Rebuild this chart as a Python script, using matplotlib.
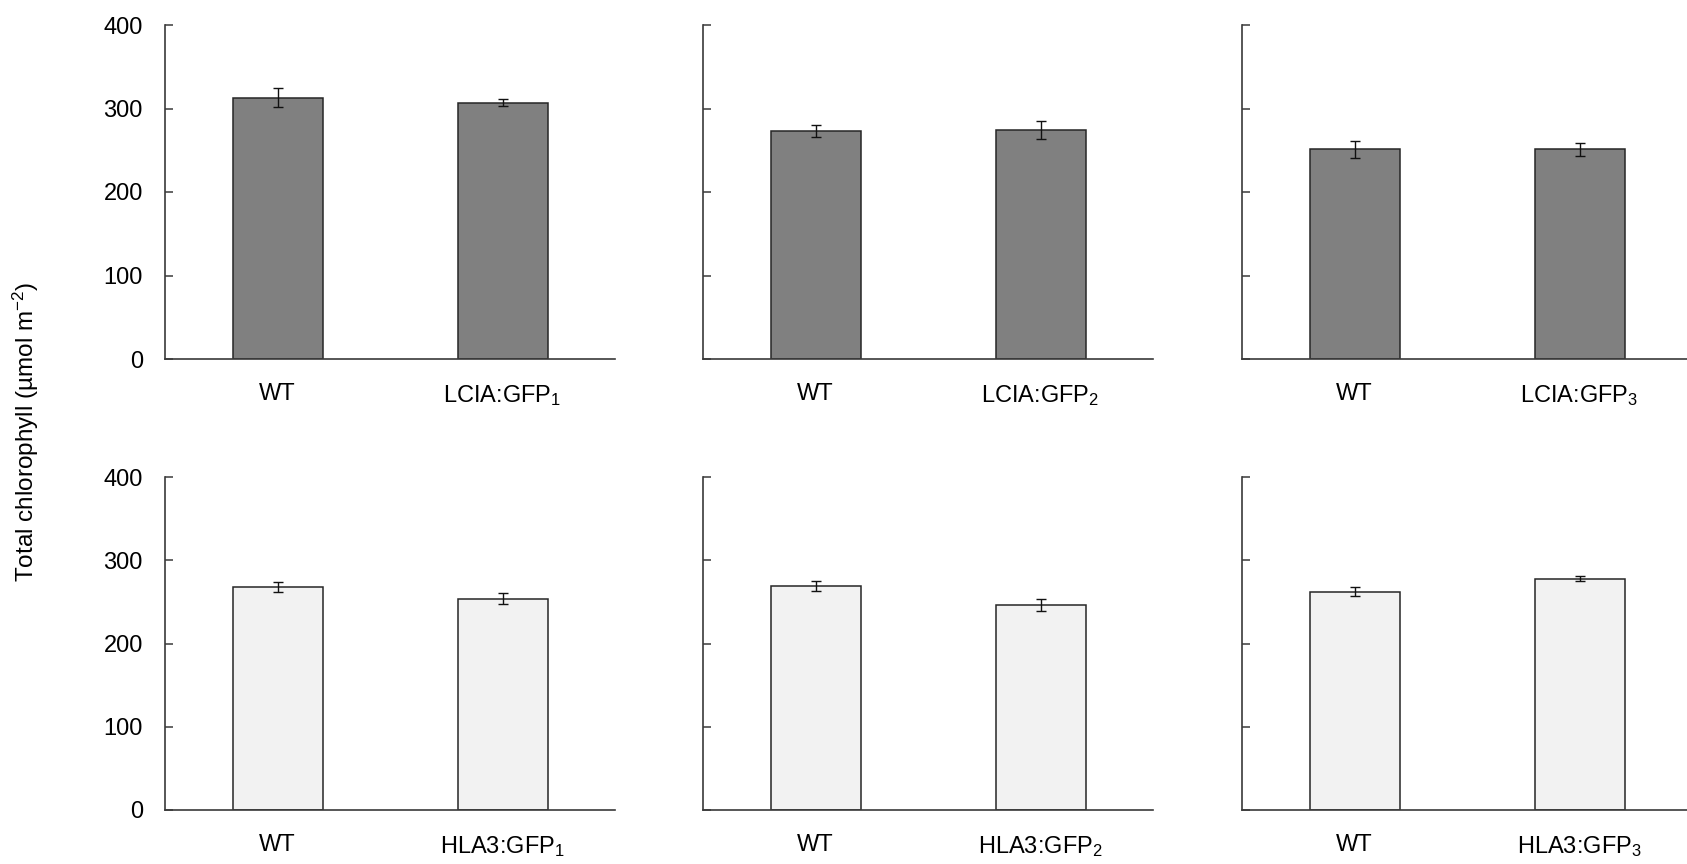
import matplotlib
matplotlib.use('Agg')
import matplotlib.pyplot as plt
import numpy as np

plt.rcParams['font.family'] = ['Liberation Sans', 'DejaVu Sans']
plt.rcParams['mathtext.default'] = 'regular'

# values (µmol m-2)
groups = ['WT', 'GFP']
lcia_labels = [['WT', 'LCIA:GFP$_1$'], ['WT', 'LCIA:GFP$_2$'], ['WT', 'LCIA:GFP$_3$']]
hla3_labels = [['WT', 'HLA3:GFP$_1$'], ['WT', 'HLA3:GFP$_2$'], ['WT', 'HLA3:GFP$_3$']]
lcia_means = [[313, 307], [273, 274], [251, 251]]
lcia_err = [[11, 4], [7, 11], [10, 8]]
hla3_means = [[268, 254], [269, 246], [262, 278]]
hla3_err = [[6, 7], [5.5, 7], [5.5, 3]]
yticks = [0, 100, 200, 300, 400]

fig = plt.figure(figsize=(16.87, 8.64), dpi=100)

W, H = 1687, 864
# axes boxes in pixels (left edge of each column, common width)
col_left = [165, 703, 1242]
col_w = 450
rows = [(25, 359, lcia_labels, lcia_means, lcia_err, '#808080'),
        (477, 810, hla3_labels, hla3_means, hla3_err, '#f2f2f2')]

spine_col = '#3a3a3a'

for top, bot, labels, means, errs, color in rows:
    for i, x0 in enumerate(col_left):
        ax = fig.add_axes([x0 / W, 1 - bot / H, col_w / W, (bot - top) / H])
        x = np.arange(len(groups))
        ax.bar(x, means[i], width=0.4, color=color, edgecolor='#262626', linewidth=1.1,
               yerr=errs[i], error_kw=dict(ecolor='#111111', elinewidth=1.0, capsize=3.5, capthick=1.0))
        ax.set_xlim(-0.5, 1.5)
        ax.set_ylim(0, 400)
        ax.set_yticks(yticks)
        ax.set_xticks(x)
        ax.set_xticklabels(labels[i], fontsize=17)
        ax.tick_params(axis='x', length=0, pad=17)
        ax.tick_params(axis='y', direction='in', length=6, width=1.1, color=spine_col,
                       labelsize=17, pad=16)
        if i > 0:
            ax.set_yticklabels([])
        for s in ['top', 'right']:
            ax.spines[s].set_visible(False)
        for s in ['left', 'bottom']:
            ax.spines[s].set_color(spine_col)
            ax.spines[s].set_linewidth(1.2)

fig.text(26 / W, 0.5, 'Total chlorophyll (µmol m$^{-2}$)', rotation=90,
         ha='center', va='center', fontsize=17.5)

fig.savefig('out.png', dpi=100)
